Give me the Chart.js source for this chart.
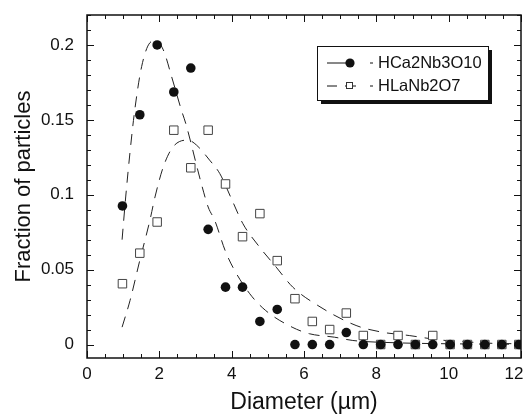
<!DOCTYPE html>
<html>
<head>
<meta charset="utf-8">
<script src="https://cdn.jsdelivr.net/npm/chart.js@4/dist/chart.umd.min.js"></script>
<style>
html,body{margin:0;padding:0;background:#fff;}
#wrap{width:528px;height:416px;position:relative;}
</style>
</head>
<body>
<div id="wrap"><canvas id="c" width="528" height="416"></canvas></div>
<script>
// ---- data ----
const seriesNames = ["HCa2Nb3O10", "HLaNb2O7"];
const diameters = [0.98,1.46,1.94,2.40,2.87,3.35,3.83,4.30,4.78,5.26,5.75,6.23,6.71,7.17,7.64,8.12,8.60,9.08,9.56,10.04,10.52,11.00,11.47,11.94];
const hcaValues = [0.0925,0.1534,0.2000,0.1686,0.1846,0.0769,0.0383,0.0383,0.0154,0.0234,0,0,0,0.008,0,0,0,0,0,0,0,0,0,0];
const hlaValues = [0.0406,0.0610,0.0818,0.1431,0.1180,0.1431,0.1072,0.0720,0.0874,0.0560,0.0306,0.0154,0.0100,0.0210,0.0060,0,0.0060,0,0.0060,0,0,0,0,0];
// fitted curves
const hcaFitX = [0.97,1.07,1.19,1.32,1.51,1.74,1.90,2.11,2.34,2.61,2.73,3.16,3.35,3.53,3.82,4.04,4.50,4.94,5.67,6.15,6.84,7.35,8.50,10.00,12.00];
const hcaFitY = [0.070,0.0985,0.1286,0.1565,0.1855,0.2015,0.2030,0.1967,0.1788,0.1565,0.1476,0.1075,0.0918,0.0830,0.0627,0.0513,0.0339,0.0227,0.0116,0.0072,0.0049,0.0027,0.0012,0.0005,0.0002];
const hlaFitX = [0.97,1.19,1.46,1.74,1.88,2.11,2.38,2.79,3.03,3.39,3.67,3.99,4.31,4.77,5.23,5.69,6.38,7.44,8.17,8.91,9.74,10.47,11.20,12.00];
const hlaFitY = [0.0116,0.0294,0.0562,0.0830,0.0985,0.1186,0.1320,0.1365,0.1331,0.1231,0.1142,0.0975,0.0807,0.0651,0.0517,0.0383,0.0261,0.0127,0.0082,0.0060,0.0031,0.0018,0.0008,0.0005];
const xTicks = [0,2,4,6,8,10,12];
const xTickLabels = ["0","2","4","6","8","10","12"];
const yTicks = [0,0.05,0.1,0.15,0.2];
const yTickLabels = ["0","0.05","0.1","0.15","0.2"];
const xTitle = "Diameter (\u00b5m)";
const yTitle = "Fraction of particles";

const FONT = "'Liberation Sans', Arial, sans-serif";
const pts = (xs, ys) => xs.map((x, i) => ({x: x, y: ys[i]}));

// frame + inward ticks on all four sides
const framePlugin = {
  id: 'frame',
  afterDatasetsDraw(chart) {
    const {ctx, chartArea: a, scales: {x, y}} = chart;
    ctx.save();
    ctx.strokeStyle = '#111';
    ctx.lineWidth = 1;
    const minorX = [], minorY = [];
    for (let i = 0; i <= 24; i++) minorX.push(i * 0.5);
    for (let i = 0; i <= 22; i++) minorY.push(i * 0.01);
    ctx.beginPath();
    minorX.forEach(v => {
      const px = Math.round(x.getPixelForValue(v)) + 0.5;
      const major = Math.abs(v / 2 - Math.round(v / 2)) < 1e-6;
      const L = major ? 7 : 4;
      ctx.moveTo(px, a.bottom); ctx.lineTo(px, a.bottom - L);
      ctx.moveTo(px, a.top); ctx.lineTo(px, a.top + L);
    });
    minorY.forEach(v => {
      const py = Math.round(y.getPixelForValue(v)) + 0.5;
      if (py < a.top || py > a.bottom) return;
      const major = Math.abs(v / 0.05 - Math.round(v / 0.05)) < 1e-6;
      const L = major ? 7 : 4;
      ctx.moveTo(a.left, py); ctx.lineTo(a.left + L, py);
      ctx.moveTo(a.right, py); ctx.lineTo(a.right - L, py);
    });
    ctx.stroke();
    ctx.lineWidth = 1.5;
    ctx.strokeRect(a.left, a.top, a.right - a.left, a.bottom - a.top);
    ctx.restore();
  }
};

// legend box with shadow inside the plot
const legendPlugin = {
  id: 'boxLegend',
  afterDraw(chart) {
    const ctx = chart.ctx;
    const L = 317, T = 46, W = 171, H = 54;
    ctx.save();
    ctx.fillStyle = '#111';
    ctx.fillRect(L + 4, T + 4, W, H);
    ctx.fillStyle = '#fff';
    ctx.fillRect(L, T, W, H);
    ctx.strokeStyle = '#111';
    ctx.lineWidth = 1;
    ctx.strokeRect(L + 0.5, T + 0.5, W, H);
    // row 1
    let yy = 63;
    ctx.beginPath();
    ctx.moveTo(327, yy); ctx.lineTo(350, yy);
    ctx.moveTo(370, yy); ctx.lineTo(373, yy);
    ctx.stroke();
    ctx.fillStyle = '#111';
    ctx.beginPath(); ctx.arc(350, yy, 4.6, 0, Math.PI * 2); ctx.fill();
    // row 2
    yy = 86;
    ctx.beginPath();
    ctx.moveTo(327, yy); ctx.lineTo(337, yy);
    ctx.moveTo(345, yy); ctx.lineTo(356, yy);
    ctx.moveTo(370, yy); ctx.lineTo(373, yy);
    ctx.stroke();
    ctx.fillStyle = '#fff';
    ctx.fillRect(346, yy - 4, 7, 7);
    ctx.strokeStyle = '#333';
    ctx.strokeRect(346.5, yy - 3.5, 6, 6);
    ctx.fillStyle = '#111';
    ctx.font = "16.5px " + FONT;
    ctx.textBaseline = 'middle';
    ctx.textAlign = 'left';
    ctx.fillText(seriesNames[0], 378, 63);
    ctx.fillText(seriesNames[1], 378, 86);
    ctx.restore();
  }
};

new Chart(document.getElementById('c'), {
  type: 'scatter',
  data: {
    datasets: [
      {label: seriesNames[0], data: pts(diameters, hcaValues), pointStyle: 'circle', pointRadius: 4.8,
       pointBackgroundColor: '#111', pointBorderWidth: 0, showLine: false},
      {label: seriesNames[1], data: pts(diameters, hlaValues), pointStyle: 'rect', pointRadius: 6,
       pointBackgroundColor: '#fff', pointBorderColor: '#444', pointBorderWidth: 1, showLine: false},
      {label: 'fit1', data: pts(hcaFitX, hcaFitY), showLine: true, pointRadius: 0, borderColor: '#222',
       borderWidth: 1, borderDash: [11, 8], tension: 0.4, cubicInterpolationMode: 'monotone'},
      {label: 'fit2', data: pts(hlaFitX, hlaFitY), showLine: true, pointRadius: 0, borderColor: '#222',
       borderWidth: 1, borderDash: [11, 8], tension: 0.4, cubicInterpolationMode: 'monotone'}
    ]
  },
  options: {
    responsive: false,
    animation: false,
    devicePixelRatio: 1,
    layout: {padding: {left: 0, top: 15, right: 5.5, bottom: 0}},
    plugins: {legend: {display: false}, tooltip: {enabled: false}},
    scales: {
      x: {
        type: 'linear', min: 0, max: 12,
        grid: {display: false, drawTicks: false},
        border: {display: false},
        afterBuildTicks: s => { s.ticks = xTicks.map(v => ({value: v})); },
        afterFit: s => { s.height = 58; s.paddingLeft = 0; s.paddingRight = 0; },
        ticks: {color: '#111', font: {family: FONT, size: 17}, padding: 6,
                callback: (v, i) => (i === xTickLabels.length - 1 ? xTickLabels[i] + '   ' : xTickLabels[i]),
                maxRotation: 0, autoSkip: false},
        title: {display: true, text: xTitle, color: '#111', font: {family: FONT, size: 23}, padding: {top: 0, bottom: 0}}
      },
      y: {
        type: 'linear', min: -0.009, max: 0.22,
        grid: {display: false, drawTicks: false},
        border: {display: false},
        afterBuildTicks: s => { s.ticks = yTicks.map(v => ({value: v})); },
        afterFit: s => { s.width = 87; s.paddingTop = 0; s.paddingBottom = 0; },
        ticks: {color: '#111', font: {family: FONT, size: 17}, padding: 13,
                callback: (v, i) => yTickLabels[i], autoSkip: false},
        title: {display: true, text: yTitle, color: '#111', font: {family: FONT, size: 22}, padding: {top: 11, bottom: 0}}
      }
    }
  },
  plugins: [framePlugin, legendPlugin]
});
</script>
</body>
</html>
